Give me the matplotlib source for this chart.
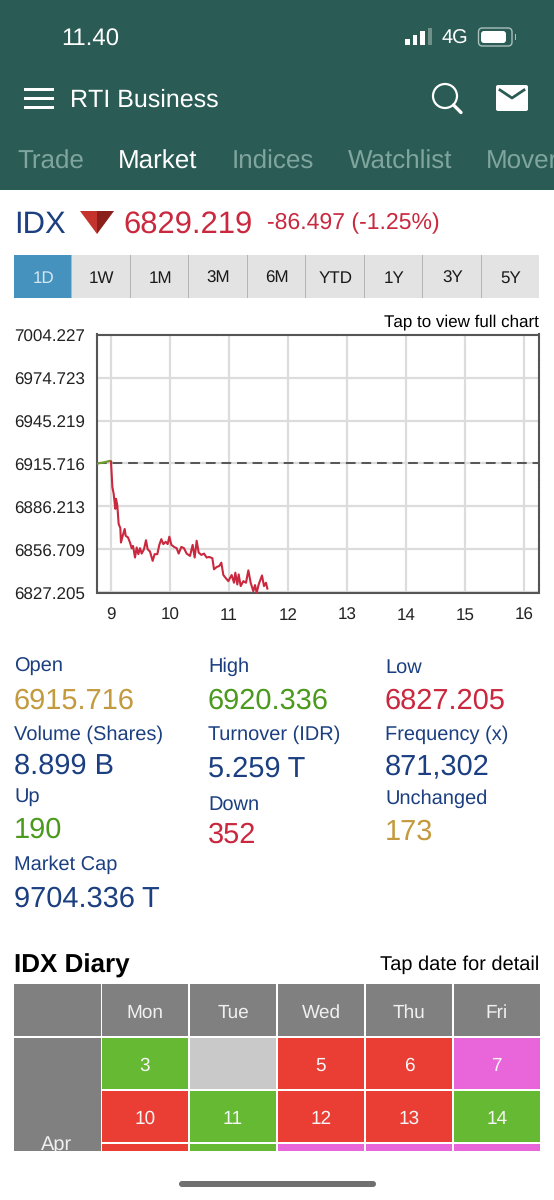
import matplotlib
matplotlib.use('Agg')
import matplotlib.pyplot as plt
from matplotlib.patches import Rectangle, Polygon, Circle, FancyBboxPatch
from matplotlib.transforms import ScaledTranslation

plt.rcParams['font.family'] = ['Liberation Sans', 'DejaVu Sans']
plt.rcParams['text.hinting'] = 'none'
plt.rcParams['text.hinting_factor'] = 1

# chart data
open_value = 6915.716
y_ticks = [7004.227, 6974.723, 6945.219, 6915.716, 6886.213, 6856.709, 6827.205]
x_ticks = [9, 10, 11, 12, 13, 14, 15, 16]

pre_time = [8.768, 8.87, 8.983, 9.0]
pre_value = [6915.7, 6916.4, 6917.5, 6917.0]

time = [9.0, 9.023, 9.045, 9.073, 9.085, 9.107, 9.13, 9.158, 9.169, 9.198, 9.232, 9.249,
        9.288, 9.322, 9.35, 9.373, 9.407, 9.435, 9.463, 9.492, 9.52, 9.559, 9.593, 9.621,
        9.661, 9.706, 9.74, 9.785, 9.819, 9.853, 9.887, 9.927, 9.96, 9.989, 10.023, 10.068,
        10.113, 10.147, 10.192, 10.237, 10.282, 10.339, 10.384, 10.418, 10.452, 10.486,
        10.531, 10.576, 10.621, 10.667, 10.718, 10.746, 10.791, 10.836, 10.87, 10.904,
        10.949, 10.989, 11.045, 11.085, 11.107, 11.141, 11.164, 11.198, 11.243, 11.288,
        11.328, 11.367, 11.412, 11.441, 11.469, 11.503, 11.559, 11.593, 11.627, 11.65]
value = [6917.0, 6899.6, 6895.0, 6884.6, 6891.5, 6886.9, 6874.2, 6871.4, 6861.5, 6866.1, 6870.8, 6866.1,
         6865.0, 6861.5, 6857.6, 6859.2, 6851.2, 6858.1, 6853.5, 6857.6, 6853.9, 6856.9, 6863.1, 6856.9,
         6855.3, 6848.9, 6853.5, 6853.5, 6859.9, 6863.8, 6860.4, 6862.0, 6860.4, 6865.5, 6859.9, 6858.5,
         6857.6, 6853.9, 6858.5, 6857.6, 6853.9, 6852.3, 6859.9, 6851.2, 6862.7, 6854.6,
         6853.0, 6853.9, 6851.2, 6851.6, 6850.7, 6843.1, 6844.7, 6845.4, 6847.7, 6839.2,
         6836.9, 6835.0, 6839.2, 6833.9, 6840.8, 6832.7, 6839.6, 6831.6, 6835.0, 6833.9,
         6842.4, 6833.9, 6828.1, 6832.3, 6827.0, 6832.7, 6838.9, 6831.6, 6833.9, 6829.9]

tabs = ['Trade', 'Market', 'Indices', 'Watchlist', 'Mover']
ranges = ['1D', '1W', '1M', '3M', '6M', 'YTD', '1Y', '3Y', '5Y']

days = ['Mon', 'Tue', 'Wed', 'Thu', 'Fri']
week1 = ['3', '', '5', '6', '7']
week2 = ['10', '11', '12', '13', '14']
week1_state = ['up', 'closed', 'down', 'down', 'flat']
week2_state = ['down', 'up', 'down', 'down', 'up']
week3_state = ['down', 'up', 'flat', 'flat', 'flat']

TEAL = '#2a5c55'
MUTED = '#7fa59e'
NAVY = '#1b3f80'
RED = '#c9283e'
GREEN = '#4b9a1e'
GOLD = '#c39a3e'
state_colors = {'up': '#66b933', 'down': '#ea3e35', 'flat': '#e966da', 'closed': '#c9c9c9'}

fig = plt.figure(figsize=(5.54, 12), dpi=100, facecolor='white')

# page layer in screen pixels
ui = fig.add_axes([0, 0, 1, 1])
ui.set_xlim(0, 554)
ui.set_ylim(1200, 0)
ui.axis('off')


def label(x, y, s, px, color='black', ha='left', **kw):
    # y is the middle of the capitals, so place the baseline from it
    ui.text(x, y + 0.36 * px, s, fontsize=px * 0.72, color=color, ha=ha, va='baseline', **kw)


def box(x0, y0, x1, y1, color, **kw):
    ui.add_patch(Rectangle((x0, y0), x1 - x0, y1 - y0, facecolor=color, edgecolor='none', **kw))


# header
box(0, 0, 554, 190, TEAL)
label(61, 37, '11.40', 24.5, 'white')
for i, h in enumerate([6, 10, 14, 17]):
    box(405 + i * 7.5, 45 - h, 409.5 + i * 7.5, 45, 'white' if i < 3 else '#6f9189')
label(442, 37, '4G', 20, 'white')
ui.add_patch(FancyBboxPatch((478.5, 28), 33.5, 18, boxstyle='round,pad=0,rounding_size=4',
                            facecolor='none', edgecolor='#a9c0bb', linewidth=1))
ui.add_patch(FancyBboxPatch((481, 31), 25, 12, boxstyle='round,pad=0,rounding_size=3',
                            facecolor='white', edgecolor='none'))
box(514.5, 34, 515.5, 40, '#a9c0bb')
for y in [89, 98, 107]:
    box(24, y - 1.5, 54, y + 1.5, 'white')
label(70, 98, 'RTI Business', 25.4, 'white')
ui.add_patch(Circle((445, 96), 12, facecolor='none', edgecolor='white', linewidth=1.6))
ui.plot([453.5, 461], [105, 112.5], color='white', linewidth=2.4, solid_capstyle='round')
ui.add_patch(FancyBboxPatch((496, 85), 32, 26, boxstyle='round,pad=0,rounding_size=2',
                            facecolor='white', edgecolor='none'))
ui.plot([500, 512, 524], [90, 98, 90], color=TEAL, linewidth=2)

tab_x = [17, 118, 232, 348, 486]
for i, t in enumerate(tabs):
    label(tab_x[i], 160, t, 25.5, 'white' if t == 'Market' else MUTED)

# quote line
label(14, 222, 'IDX', 31, NAVY)
ui.add_patch(Polygon([(80, 211), (97, 211), (97, 234)], facecolor='#c4342c', edgecolor='none'))
ui.add_patch(Polygon([(97, 211), (114, 211), (97, 234)], facecolor='#8a1f1c', edgecolor='none'))
label(123.5, 222, '6829.219', 31, RED)
label(267, 221.5, '-86.497 (-1.25%)', 22.8, RED)

# range buttons
btn_w = (540 - 14) / len(ranges)
for i, r in enumerate(ranges):
    x0 = 14 + i * btn_w
    box(x0, 255, x0 + btn_w - 1, 298, '#4492bd' if i == 0 else '#e3e3e3')
    if i > 0:
        box(x0 - 1, 255, x0, 298, '#b5b5b5')
    label(x0 + btn_w / 2, 277, r, 17.5, '#d6e6f0' if i == 0 else '#1a1a1a', ha='center')

label(539, 320, 'Tap to view full chart', 17.1, 'black', ha='right')

# price chart
ax = fig.add_axes([97 / 554, 1 - 592.5 / 1200, (539 - 97) / 554, (592.5 - 334.5) / 1200])
ax.set_xlim(9 - 14 / 59, 16 + 15 / 59)
ax.set_ylim(y_ticks[-1], y_ticks[0])
ax.set_xticks(x_ticks)
ax.set_yticks(y_ticks)
ax.set_yticklabels(['%.3f' % v for v in y_ticks])
ax.grid(True, color='#dcdcdc', linewidth=1.6)
ax.set_axisbelow(True)
ax.tick_params(length=0, labelsize=12, labelcolor='#222222')
ax.tick_params(axis='x', pad=19.8)
ax.tick_params(axis='y', pad=59.5)
for lbl in ax.get_xticklabels():
    lbl.set_va('baseline')
nudge = ScaledTranslation(0, -1.5 / 100, fig.dpi_scale_trans)
for lbl in ax.get_yticklabels():
    lbl.set_ha('left')
    lbl.set_va('center_baseline')
    lbl.set_transform(lbl.get_transform() + nudge)
for s in ax.spines.values():
    s.set_color('#555555')
    s.set_linewidth(1.5)
    s.set_linestyle((0, (3, 0.6)))
ax.spines['bottom'].set_linestyle('-')
ax.axhline(open_value, color='#555555', linewidth=1.4, linestyle=(0, (5, 3)), zorder=2)
ax.plot(pre_time, pre_value, color='#6f9f2c', linewidth=1.6, zorder=3)
ax.plot(time, value, color=RED, linewidth=1.5, zorder=3, clip_on=False)

# stats block
label(14, 665, 'Open', 20.3, NAVY)
label(14, 698, '6915.716', 28.6, GOLD)
label(208, 665, 'High', 20.3, NAVY)
label(208, 698, '6920.336', 28.6, GREEN)
label(385, 665, 'Low', 20.3, NAVY)
label(385, 698, '6827.205', 28.6, RED)
label(14, 733, 'Volume (Shares)', 20.3, NAVY)
label(14, 763, '8.899 B', 28.6, NAVY)
label(208, 733, 'Turnover (IDR)', 20.3, NAVY)
label(208, 766, '5.259 T', 28.6, NAVY)
label(385, 733, 'Frequency (x)', 20.3, NAVY)
label(385, 764, '871,302', 28.6, NAVY)
label(14, 795, 'Up', 20.3, NAVY)
label(14, 827, '190', 28.6, GREEN)
label(208, 802, 'Down', 20.3, NAVY)
label(208, 832, '352', 28.6, RED)
label(385, 797, 'Unchanged', 20.3, NAVY)
label(385, 829, '173', 28.6, GOLD)
label(14, 863, 'Market Cap', 20.3, NAVY)
label(14, 896, '9704.336 T', 28.6, NAVY)

# diary table
label(14, 963, 'IDX Diary', 25.5, 'black', fontweight='bold')
label(539, 963, 'Tap date for detail', 19.8, 'black', ha='right')

col_edges = [(102, 188), (190, 276), (278, 364), (366, 452), (453.5, 540)]
GREY = '#808080'
box(14, 984, 100.5, 1036, GREY)
box(14, 1037.5, 100.5, 1151, GREY)
label(57, 1143, 'Apr', 20, '#f0f0f0', ha='center')
for i, (x0, x1) in enumerate(col_edges):
    xc = (x0 + x1) / 2
    box(x0, 984, x1, 1036, GREY)
    label(xc, 1011, days[i], 19.5, '#f0f0f0', ha='center')
    box(x0, 1037.5, x1, 1089, state_colors[week1_state[i]])
    label(xc, 1064, week1[i], 19.5, '#f5f5f5', ha='center')
    box(x0, 1091, x1, 1142, state_colors[week2_state[i]])
    label(xc, 1117, week2[i], 19.5, '#f5f5f5', ha='center')
    box(x0, 1144, x1, 1151, state_colors[week3_state[i]])
# the table scrolls under the page edge, this hides the cut part of "Apr"
box(14, 1151, 100.5, 1165, 'white', zorder=4)

# home indicator
ui.add_patch(FancyBboxPatch((179, 1181), 197, 6, boxstyle='round,pad=0,rounding_size=3',
                            facecolor='#707070', edgecolor='none'))

fig.savefig('out.png', dpi=100)
